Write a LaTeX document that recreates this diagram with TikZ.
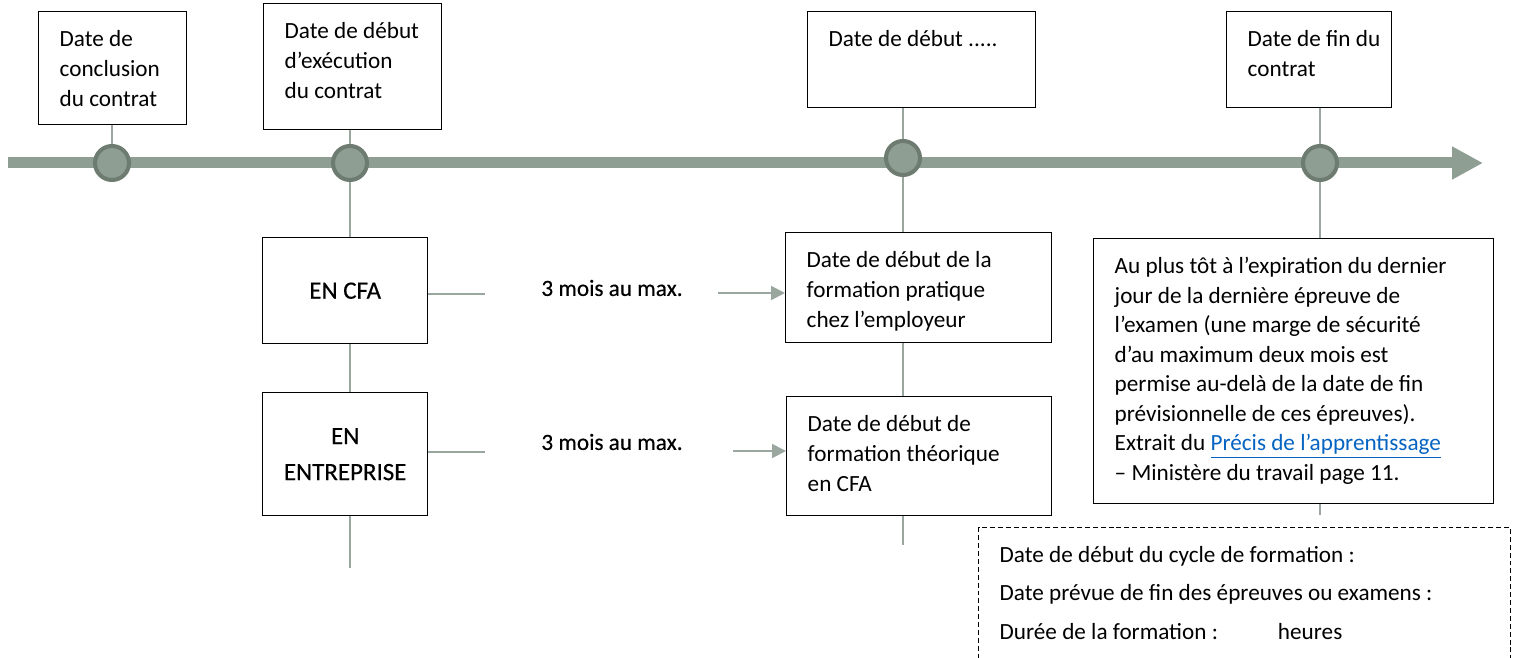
\documentclass[tikz,border=0pt]{standalone}
\usepackage{fontspec}
\setmainfont{Carlito}
\newfontfamily\midfont[FakeBold=0.4]{Carlito}
\usepackage{xcolor}
\usetikzlibrary{arrows.meta,backgrounds}
\definecolor{lineg}{HTML}{8F9E93}
\definecolor{ringg}{HTML}{6D7B70}
\definecolor{conng}{HTML}{9AA79E}
\definecolor{linkblue}{HTML}{0563C1}
\newcommand{\topbox}[3]{\parbox[c][#2][t]{#1}{\raggedright #3}}

\tikzset{
  datebox/.style={draw=black,line width=0.8pt,anchor=north west,inner xsep=0.42cm,inner ysep=0.37cm},
  modebox/.style={draw=black,line width=0.8pt,anchor=north west,align=center,minimum width=3.3cm},
  dot/.style={circle,draw=ringg,fill=lineg,line width=2.3pt,minimum size=0.68cm,inner sep=0pt},
  conn/.style={draw=conng,line width=1.1pt},
}

\begin{document}
\begin{tikzpicture}[x=0.02cm,y=-0.02cm,font=\fontsize{13.2}{17}\selectfont]
            \useasboundingbox (0,0) rectangle (1515,658);
            \clip (0,0) rectangle (1515,658);

            \node[datebox] (concl) at (38,11) {\topbox{2.12cm}{1.52cm}{Date de\\conclusion\\du contrat}};
            \node[datebox] (exec) at (263,3) {\topbox{2.72cm}{1.78cm}{Date de début\\d’exécution\\du contrat}};
            \node[datebox] (debut) at (807,11) {\topbox{3.72cm}{1.18cm}{Date de début .....}};
            \node[datebox] (fin) at (1226,11) {\topbox{2.46cm}{1.18cm}{\mbox{Date de fin du}\\contrat}};

            \node[modebox,minimum height=2.12cm,font=\midfont\fontsize{14.2}{17}\selectfont] (cfa) at (262,237) {EN CFA};
            \node[modebox,minimum height=2.46cm,font=\midfont\fontsize{14.2}{20.5}\selectfont] (entr) at (262,392) {EN\\ENTREPRISE};

            \node[font=\midfont\fontsize{13.2}{17}\selectfont] (mois1) at (612,288) {3 mois au max.};
            \node[font=\midfont\fontsize{13.2}{17}\selectfont] (mois2) at (612,442) {3 mois au max.};

            \node[datebox] (prat) at (785,232) {\topbox{4.48cm}{1.46cm}{Date de début de la\\formation pratique\\chez l’employeur}};
            \node[datebox] (theo) at (786,396) {\topbox{4.46cm}{1.64cm}{Date de début de\\formation théorique\\en CFA}};

            \node[datebox,font=\fontsize{13.2}{16.8}\selectfont] (exam) at (1093,238) {\topbox{7.16cm}{4.56cm}{Au plus tôt à l’expiration du dernier\\jour de la dernière épreuve de\\l’examen (une marge de sécurité\\d’au maximum deux mois est\\permise au-delà de la date de fin\\prévisionnelle de ces épreuves).\\Extrait du \textcolor{linkblue}{\underline{Précis de l’apprentissage}}\\– Ministère du travail page 11.}};

            \node[datebox,dash pattern=on 2.8pt off 1.7pt,font=\fontsize{13.2}{22}\selectfont] (cycle) at (978,527) {\topbox{9.8cm}{2.66cm}{Date de début du cycle de formation :\\Date prévue de fin des épreuves ou examens :\\Durée de la formation :\hspace{1.2cm}heures}};

            \node[dot] (c1) at (112,163) {};
            \node[dot] (c2) at (350,163) {};
            \node[dot] (c3) at (903,158) {};
            \node[dot] (c4) at (1320,163) {};

            \coordinate (tl0) at (8,163);
            \coordinate (tl1) at (1483,163);
            \coordinate (e2) at (350,568);
            \coordinate (e3) at (903,545);
            \coordinate (e4) at (1320,515);
            \coordinate (h1) at (485,294);
            \coordinate (a1) at (718,293);
            \coordinate (h2) at (485,452);
            \coordinate (a2) at (733,451);

            \begin{scope}[on background layer]
            % stems of the dates
            \draw[conn] (c1 |- concl.south) -- (c1);
            \draw[conn] (c2 |- exec.south) -- (c2 |- cfa.north);
            \draw[conn] (c2 |- cfa.south) -- (c2 |- entr.north);
            \draw[conn] (c2 |- entr.south) -- (e2);
            \draw[conn] (c3 |- debut.south) -- (c3 |- prat.north);
            \draw[conn] (c3 |- prat.south) -- (c3 |- theo.north);
            \draw[conn] (c3 |- theo.south) -- (e3);
            \draw[conn] (c4 |- fin.south) -- (c4 |- exam.north);
            \draw[conn] (c4 |- exam.south) -- (e4);

            % delays
            \draw[conn] (cfa.east |- h1) -- (h1);
            \draw[conn,-{Triangle[length=0.28cm,width=0.28cm]}] (a1) -- (prat.west |- a1);
            \draw[conn] (entr.east |- h2) -- (h2);
            \draw[conn,-{Triangle[length=0.28cm,width=0.28cm]}] (a2) -- (theo.west |- a2);

            % timeline
            \draw[lineg,line width=0.22cm,-{Triangle[length=0.62cm,width=0.62cm]}] (tl0) -- (tl1);
            \end{scope}
        \end{tikzpicture}
\end{document}
